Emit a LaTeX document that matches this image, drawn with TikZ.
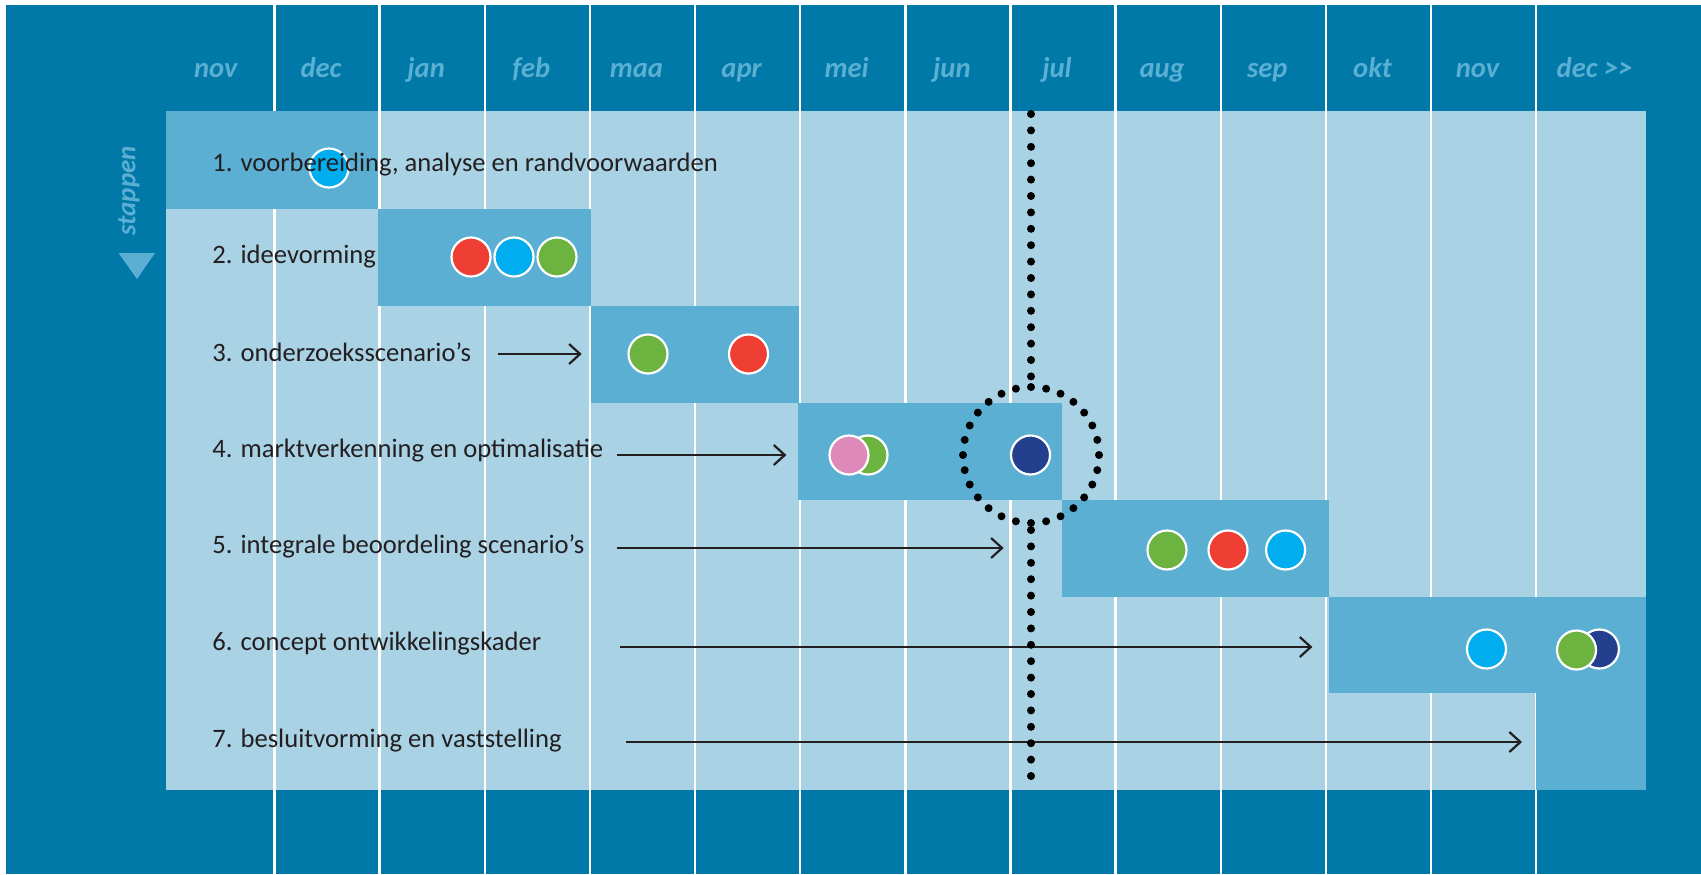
\documentclass[tikz,border=0pt]{standalone}
\usepackage{fontspec}
\setmainfont{Carlito}
\usetikzlibrary{arrows.meta}

\definecolor{donker}{HTML}{0078A8}
\definecolor{licht}{HTML}{A9D2E5}
\definecolor{balk}{HTML}{5AAFD3}
\definecolor{tekst}{HTML}{231F20}
\definecolor{rood}{HTML}{EF3E33}
\definecolor{blauw}{HTML}{00AEEF}
\definecolor{groen}{HTML}{6CB33F}
\definecolor{navy}{HTML}{243F8E}
\definecolor{roze}{HTML}{DE89BA}

\begin{document}
\begin{tikzpicture}[x=0.5pt,y=-0.5pt]
	% styles for the planning; one unit is one pixel of the picture, y runs downwards
	\tikzset{
		dot/.style={circle, draw=white, line width=1.1pt, minimum size=19.5pt, inner sep=0pt}, % coloured markers
		stap/.style={anchor=base west, inner sep=0pt, text=tekst, font=\fontsize{13.3}{15}\selectfont}, % step labels
		maand/.style={anchor=base, inner sep=0pt, text=balk, font=\fontsize{14.3}{16}\selectfont\bfseries\itshape}, % month header
		pijl/.style={-{Straight Barb[length=5.5pt,width=10pt]}, line width=1.1pt, draw=tekst}, % waiting arrows
		peil/.style={line width=4pt, line cap=round, dash pattern=on 0pt off 8.2pt}, % the 'now' line
	}
	\useasboundingbox (0,0) rectangle (1701,874);
	\fill[white] (0,0) rectangle (1701,874);
	\fill[donker] (6,5) rectangle (1701,874);
	\fill[licht] (166,111) rectangle (1646,790);
	% white lines between the months
	\foreach \k in {1,...,13}
		\draw[white, line width=1.2pt] ({169.25+105.15*\k},5) -- ({169.25+105.15*\k},874);
	% months
	\foreach \m [count=\i] in {nov,dec,jan,feb,maa,apr,mei,jun,jul,aug,sep,okt,nov}
		\node[maand] (m\i) at ({169.25+105.15*(\i-0.5)-6},77) {\m};
	\node[maand] (m14) at (1594.6,77) {dec {>}{>}};
	% side label
	\node[text=balk, rotate=90, inner sep=0pt, font=\fontsize{13.5}{15}\selectfont\bfseries\itshape] (stappen) at (129,191) {stappen};
	\fill[balk] (118.6,253) -- (155,253) -- (137,279) -- cycle;
	% bars of the steps
	\fill[balk] (166,111) rectangle (378,208.5);
	\fill[balk] (378,208.5) rectangle (590.5,305.5);
	\fill[balk] (590.5,305.5) rectangle (799,402.5);
	\fill[balk] (798,402.5) rectangle (1062,499.5);
	\fill[balk] (1062,499.5) rectangle (1329,596.5);
	\fill[balk] (1329,596.5) rectangle (1646,693);
	\fill[balk] (1536,693) rectangle (1646,790);
	% markers, the later one is drawn on top
	\node[dot, fill=blauw] (d1a) at (329,168) {};
	\node[dot, fill=rood] (d2a) at (471,257) {};
	\node[dot, fill=blauw] (d2b) at (514,257) {};
	\node[dot, fill=groen] (d2c) at (557,257) {};
	\node[dot, fill=groen] (d3a) at (648,354) {};
	\node[dot, fill=rood] (d3b) at (748.5,354) {};
	\node[dot, fill=groen] (d4b) at (868,455) {};
	\node[dot, fill=roze] (d4a) at (849,455) {};
	\node[dot, fill=navy] (d4c) at (1030.5,455) {};
	\node[dot, fill=groen] (d5a) at (1167,550) {};
	\node[dot, fill=rood] (d5b) at (1228,550) {};
	\node[dot, fill=blauw] (d5c) at (1285.6,550) {};
	\node[dot, fill=blauw] (d6a) at (1486.5,649) {};
	\node[dot, fill=navy] (d6c) at (1599.4,649) {};
	\node[dot, fill=groen] (d6b) at (1576.5,650) {};
	% the steps
	\node[stap] (s1) at (212,171) {1. voorbereiding, analyse en randvoorwaarden};
	\node[stap] (s2) at (212,263) {2. ideevorming};
	\node[stap] (s3) at (212,361) {3. onderzoeksscenario’s};
	\node[stap] (s4) at (212,457) {4. marktverkenning en optimalisatie};
	\node[stap] (s5) at (212,553) {5. integrale beoordeling scenario’s};
	\node[stap] (s6) at (212,650) {6. concept ontwikkelingskader};
	\node[stap] (s7) at (212,747) {7. besluitvorming en vaststelling};
	% begin and end of the arrows
	\coordinate (a3) at (497.5,354);  \coordinate (b3) at (581.7,354);
	\coordinate (a4) at (616.5,455);  \coordinate (b4) at (786.4,455);
	\coordinate (a5) at (616.5,548);  \coordinate (b5) at (1003.7,548);
	\coordinate (a6) at (620,647);    \coordinate (b6) at (1312.4,647);
	\coordinate (a7) at (626,742);    \coordinate (b7) at (1522,742);
	\draw[pijl] (a3) -- (b3);
	\draw[pijl] (a4) -- (b4);
	\draw[pijl] (a5) -- (b5);
	\draw[pijl] (a6) -- (b6);
	\draw[pijl] (a7) -- (b7);
	% where we are now
	\coordinate (nu) at (1031,455);
	\coordinate (nutop) at (1031,114);
	\coordinate (nubot) at (1031,790);
	\draw[peil] (nutop) -- (1031,377);
	\draw[peil] (1031,530) -- (nubot);
	\draw[peil, dash pattern=on 0pt off 7.63pt] (nu) circle[radius=68];
\end{tikzpicture}
\end{document}
